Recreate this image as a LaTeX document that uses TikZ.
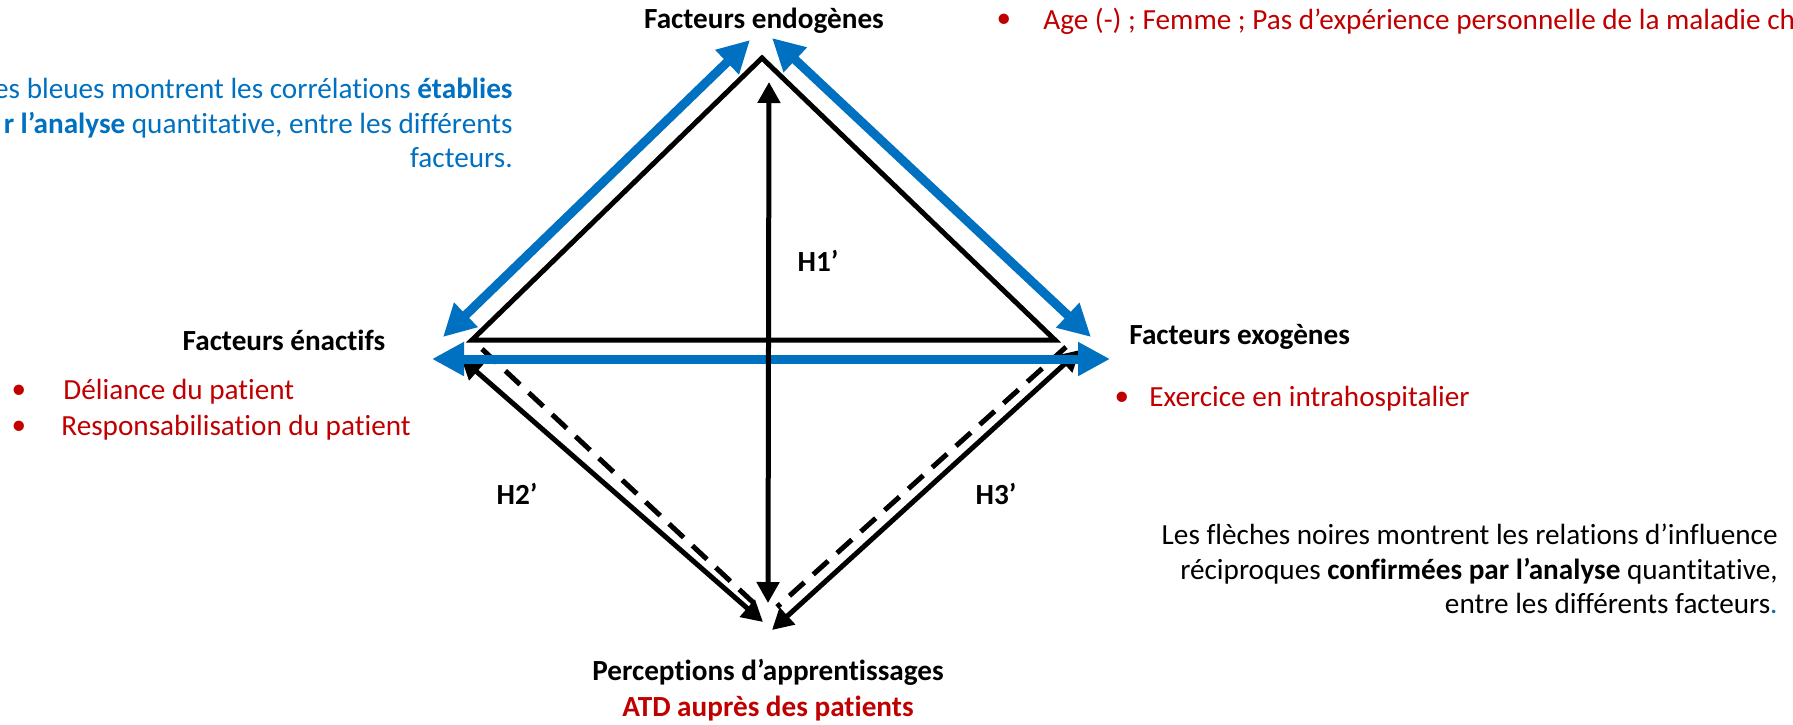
\documentclass[tikz,border=0pt]{standalone}
\usepackage{fontspec}
\setmainfont{Carlito}[Ligatures={NoCommon}]
\usetikzlibrary{arrows.meta}
\definecolor{cblue}{HTML}{0070C0}
\definecolor{cred}{HTML}{C00000}
\begin{document}
\begin{tikzpicture}[x=0.5pt,y=-0.5pt,
  txt/.style={inner sep=0pt, font=\fontsize{14.6}{17.2}\selectfont},
  head/.style={inner sep=0pt, font=\fontsize{14.6}{17.2}\selectfont\bfseries},
  tri/.style={line width=2.5pt, line join=miter},
  barr/.style={line width=2.5pt, {Triangle[length=10.5pt,width=11pt]}-{Triangle[length=10.5pt,width=11pt]}},
  blarr/.style={cblue, line width=4.5pt, {Triangle[length=16pt,width=16pt]}-{Triangle[length=16pt,width=16pt]}},
  dsh/.style={line width=2.5pt, dash pattern=on 10pt off 6pt},
]
\useasboundingbox (0,0) rectangle (1793,724);

% black triangle
\coordinate (A) at (762,58);
\coordinate (L) at (472,340);
\coordinate (R) at (1055,340);
\draw[tri] (L) -- (A) -- (R) -- cycle;

% black diagonal arrows
\coordinate (dlt) at (461,358);
\coordinate (dlb) at (763,622);
\coordinate (drt) at (1080,350);
\coordinate (drb) at (772,630);
\draw[barr] (dlt) -- (dlb);
\draw[barr] (drt) -- (drb);

% dashed lines
\coordinate (slt) at (482,349);
\coordinate (slb) at (758,607);
\coordinate (srt) at (1066,347);
\coordinate (srb) at (777,607);
\draw[dsh] (slt) -- (slb);
\draw[dsh] (srt) -- (srb);

% blue arrows
\coordinate (bl1) at (443,337);
\coordinate (bl2) at (750,40);
\coordinate (br1) at (772,38);
\coordinate (br2) at (1091,337);
\coordinate (bh1) at (432,359);
\coordinate (bh2) at (1110,359);
\draw[blarr] (bl1) -- (bl2);
\draw[blarr] (br1) -- (br2);
\draw[blarr] (bh1) -- (bh2);

% vertical black arrow
\coordinate (vt) at (769,82);
\coordinate (vb) at (768,603);
\draw[barr] (vb) -- (vt);

% texts
\node[head] (endo) at (764,21) {Facteurs endogènes};
\node[txt, cred] (ageb) at (1004,21) {•};
\node[txt, cred, anchor=west] (age) at (1043,21) {Age (-) ; Femme ; Pas d’expérience personnelle de la maladie ch};

\node[txt, cblue, align=right, anchor=east] (bluetxt) at (513,123)
  {es bleues montrent les corrélations \textbf{établies}\\
   \textbf{r l’analyse} quantitative, entre les différents\\
   facteurs.};

\node[head] (h1) at (818,261) {H1’};
\node[head] (h2) at (517,494) {H2’};
\node[head] (h3) at (996,494) {H3’};

\node[head] (enac) at (284,340) {Facteurs énactifs};
\node[txt, cred] (b1) at (19,392) {•};
\node[txt, cred, anchor=west] (deli) at (63,392) {Déliance du patient};
\node[txt, cred] (b2) at (19,428) {•};
\node[txt, cred, anchor=west] (resp) at (61,428) {Responsabilisation du patient};

\node[head, anchor=west] (exo) at (1129,337) {Facteurs exogènes};
\node[txt, cred] (b3) at (1122,399) {•};
\node[txt, cred, anchor=west] (exer) at (1149,399) {Exercice en intrahospitalier};

\node[txt, align=right, anchor=east] (blacktxt) at (1778,569)
  {Les flèches noires montrent les relations d’influence\\
   réciproques \textbf{confirmées par l’analyse} quantitative,\\
   entre les différents facteurs\textcolor{cblue}{.}};

\node[head] (perc) at (768,672) {Perceptions d’apprentissages};
\node[head, cred] (atd) at (768,709) {ATD auprès des patients};
\end{tikzpicture}
\end{document}
